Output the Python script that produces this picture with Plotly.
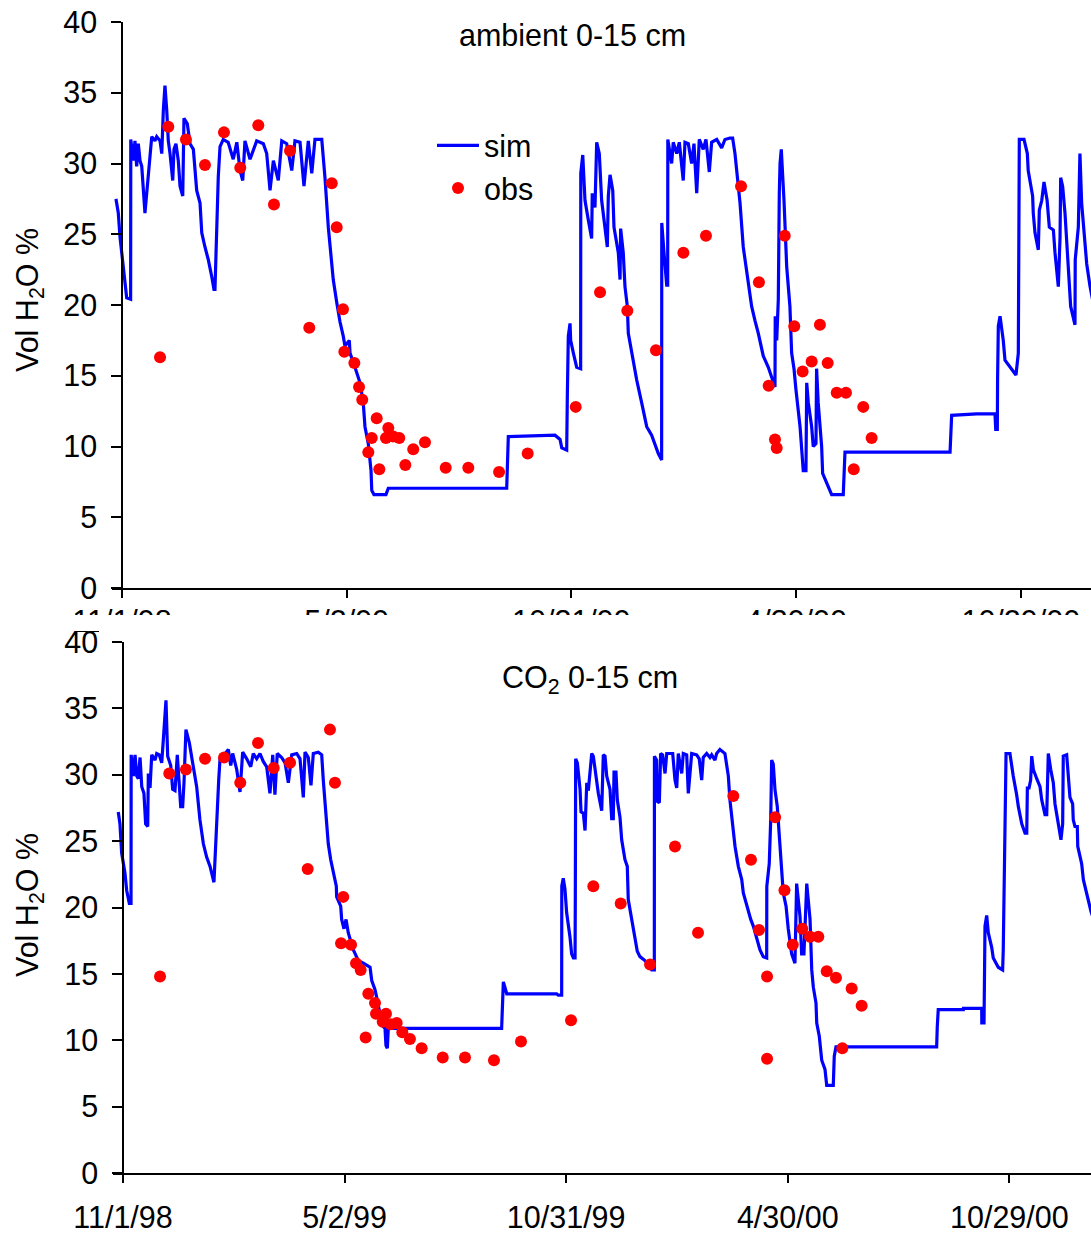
import pandas as pd
import plotly.graph_objects as go

ORIGIN = pd.Timestamp("1998-11-01")

# ---- ambient plot, 0-15 cm (days after 1 Nov 1998, vol. water %) ----
amb_sim_day = [-4.9, -3.0, -1.6, 0.6, 2.4, 3.8, 7.0, 7.1, 9.2, 10.5, 11.9, 13.2, 14.6, 16.0, 18.6,
               22.7, 24.1, 26.7, 28.1, 30.8, 32.2, 33.5, 34.8, 36.2, 37.5, 38.9, 41.1, 42.1, 43.7,
               45.6, 47.0, 49.2, 50.2, 52.9, 55.1, 57.8, 60.5, 63.2, 64.6, 67.2, 69.9, 72.7, 74.5,
               75.3, 76.7, 78.0, 79.4, 82.0, 86.0, 90.1, 93.0, 95.6, 97.8, 99.6, 103.7, 109.1,
               114.5, 117.2, 119.9, 122.6, 126.6, 129.4, 133.4, 137.5, 140.1, 144.2, 147.4, 150.9,
               153.7, 156.3, 161.8, 164.4, 167.1, 171.1, 173.9, 176.6, 179.2, 180.6, 184.1, 184.7,
               188.7, 192.8, 195.4, 196.8, 199.5, 201.7, 202.3, 204.1, 213.8, 215.7, 311.6, 312.9,
               350.7, 354.8, 356.2, 360.2, 360.7, 361.5, 362.9, 363.4, 365.6, 368.3, 371.5, 371.6,
               373.2, 375.0, 377.7, 380.4, 380.9, 383.1, 384.5, 386.6, 388.5, 391.2, 393.1, 393.9,
               395.3, 397.5, 398.5, 402.0, 403.4, 403.9, 406.0, 407.4, 409.3, 410.1, 412.8, 416.9,
               420.9, 425.0, 429.0, 431.7, 434.4, 437.1, 437.2, 439.0, 441.2, 442.0, 442.1, 445.2,
               446.5, 449.3, 451.4, 454.6, 456.0, 458.7, 461.4, 463.3, 465.5, 467.6, 470.8, 473.0,
               475.7, 477.6, 481.7, 485.7, 488.4, 492.4, 494.6, 496.5, 499.2, 500.6, 503.2, 506.0,
               510.0, 512.7, 515.4, 519.4, 523.5, 528.9, 529.1, 530.3, 531.6, 532.4, 533.0, 534.0,
               536.2, 538.4, 541.0, 542.4, 544.3, 545.9, 549.2, 551.8, 554.0, 554.6, 555.9, 558.6,
               559.9, 562.1, 562.6, 563.9, 566.7, 567.5, 570.8, 574.8, 584.2, 585.6, 670.7, 672.0,
               692.3, 707.1, 707.7, 709.0, 709.2, 709.8, 711.2, 713.8, 715.2, 717.9, 724.1, 726.0,
               726.1, 726.8, 730.6, 733.3, 734.0, 737.6, 738.1, 739.5, 742.2, 743.0, 745.0, 746.8,
               749.3, 751.1, 754.4, 755.7, 758.4, 759.8, 760.3, 761.9, 763.8, 767.3, 768.4, 771.9,
               772.1, 774.6, 775.9, 777.3, 781.4, 784.1, 788.1]
amb_sim_val = [27.5, 26.5, 24.8, 23.0, 21.3, 20.5, 20.4, 31.7, 30.2, 31.6, 29.8, 31.4, 30.2, 29.8, 26.5,
               30.7, 31.9, 31.6, 31.9, 31.6, 30.7, 33.8, 35.5, 33.8, 31.6, 30.7, 28.8, 31.0, 31.4,
               30.2, 28.4, 27.7, 33.2, 32.8, 31.4, 31.0, 28.1, 27.2, 25.1, 24.1, 23.2, 22.0, 21.1,
               21.1, 26.0, 29.1, 31.2, 31.7, 31.5, 30.3, 31.5, 29.5, 28.8, 31.6, 30.3, 31.6,
               31.4, 30.7, 28.1, 30.2, 28.8, 31.6, 31.4, 29.5, 31.6, 31.5, 28.4, 31.6,
               29.3, 31.7, 31.7, 29.0, 25.5, 21.8, 20.2, 18.8, 17.8, 17.1, 17.5, 16.6,
               15.6, 14.5, 13.1, 11.4, 10.2, 8.3, 6.9, 6.6, 6.6, 7.05, 7.05, 10.7,
               10.8, 10.5, 9.9, 9.75, 13.5, 17.8, 18.7, 17.5, 16.6, 15.6, 15.5, 29.3,
               30.6, 27.4, 26.0, 24.7, 27.9, 26.9, 31.5, 30.7, 27.4, 25.5, 24.1, 27.7,
               29.2, 28.1, 25.5, 23.7, 21.8, 25.4, 23.7, 21.3, 19.9, 18.0, 16.6, 14.7,
               13.1, 11.4, 10.8, 10.1, 9.5, 9.05, 25.8, 23.7, 21.4, 21.4, 31.7, 30.0,
               31.5, 30.7, 31.5, 28.8, 31.5, 31.4, 30.0, 31.4, 27.9, 31.7, 31.0, 31.7,
               29.4, 31.5, 31.7, 31.1, 31.7, 31.8, 31.8, 30.7, 28.4, 27.2, 24.1, 22.3,
               19.9, 18.9, 18.0, 16.4, 15.6, 14.2, 19.2, 17.5, 20.4, 27.9, 30.0, 31.0,
               27.4, 22.7, 19.9, 16.6, 15.5, 14.0, 11.4, 8.3, 8.3, 14.5, 13.1, 11.4,
               10.0, 10.2, 15.5, 13.1, 10.0, 8.1, 7.4, 6.6, 6.6, 9.6, 9.6, 12.2,
               12.3, 12.3, 11.2, 11.2, 14.7, 18.5, 19.2, 17.5, 16.1, 15.8, 15.05, 16.6,
               24.8, 31.7, 31.7, 30.7, 29.5, 27.7, 26.5, 25.1, 23.9, 26.7, 27.4, 28.7,
               27.4, 25.5, 25.3, 23.7, 21.3, 24.8, 29.0, 28.4, 26.5, 21.3, 19.9, 18.6,
               23.2, 25.5, 30.7, 27.2, 22.9, 21.3, 19.5]

amb_obs_day = [30.8, 37.5, 51.8, 67.2, 82.6, 95.8, 110.4, 123.1, 136.1, 151.7, 169.9, 173.9, 179.0,
               180.1, 188.2, 192.0, 194.6, 199.5, 202.3, 206.3, 208.4, 213.8, 215.7, 219.7, 224.6,
               229.5, 235.9, 245.4, 262.2, 280.5, 305.4, 328.6, 367.5, 387.2, 409.3, 432.5, 454.7,
               473.0, 501.4, 515.9, 523.8, 528.9, 530.3, 536.8, 544.5, 551.3, 558.6, 565.3, 571.6,
               578.9, 586.4, 592.7, 600.4, 607.2]
amb_obs_val = [16.3, 32.6, 31.7, 29.9, 32.2, 29.7, 32.7, 27.1, 30.9, 18.4, 28.6, 25.5, 19.7,
               16.7, 15.9, 14.2, 13.3, 9.6, 10.6, 12.0, 8.4, 10.6, 11.3, 10.7, 10.6,
               8.7, 9.8, 10.3, 8.5, 8.5, 8.2, 9.5, 12.8, 20.9, 19.6, 16.8, 23.7,
               24.9, 28.4, 21.6, 14.3, 10.5, 9.9, 24.9, 18.5, 15.3, 16.0, 18.6, 15.9,
               13.8, 13.8, 8.4, 12.8, 10.6]

# ---- elevated CO2 plot, 0-15 cm ----
co2_sim_day = [-3.9, -2.5, -1.1, 1.6, 3.0, 5.2, 6.6, 6.7, 8.5, 9.9, 11.3, 12.6, 14.0, 15.4, 17.2,
               18.6, 20.3, 20.8, 22.2, 23.6, 26.3, 27.7, 29.8, 31.8, 33.1, 35.3, 36.7, 39.2, 40.8,
               42.7, 44.6, 47.4, 49.0, 50.1, 51.7, 54.5, 57.2, 60.5, 63.2, 66.0, 68.7, 71.5, 74.7,
               76.1, 77.5, 78.6, 79.7, 82.4, 86.5, 88.5, 90.1, 93.4, 96.1, 98.3, 101.6, 104.9,
               107.0, 109.8, 112.5, 115.2, 118.0, 120.7, 123.0, 124.8, 126.7, 130.3, 133.1, 135.8,
               138.6, 142.7, 145.4, 148.1, 149.5, 152.2, 154.4, 156.3, 160.4, 163.2, 164.5, 167.3,
               168.6, 170.6, 172.7, 175.2, 175.5, 178.8, 179.6, 181.5, 183.2, 185.0, 189.2, 193.3,
               197.4, 202.9, 204.3, 207.0, 208.9, 211.1, 213.0, 215.2, 216.0, 217.1, 217.9, 311.0,
               311.5, 312.4, 315.2, 356.2, 357.5, 360.3, 360.4, 361.6, 363.0, 364.4, 367.1, 368.5,
               369.9, 371.3, 371.5, 371.8, 373.2, 375.4, 376.2, 378.1, 379.5, 380.9, 382.2, 383.6,
               385.0, 386.3, 388.5, 390.4, 393.2, 394.5, 395.9, 397.3, 400.0, 401.4, 402.7, 403.3,
               404.9, 406.0, 408.2, 409.6, 412.3, 414.2, 415.0, 417.8, 420.5, 422.4, 424.6, 428.7,
               432.8, 434.2, 436.4, 436.5, 438.3, 438.8, 440.5, 441.6, 443.2, 445.2, 446.6, 451.5,
               453.4, 454.8, 456.1, 458.9, 460.2, 463.0, 464.3, 467.1, 471.2, 473.3, 475.3, 476.6,
               479.4, 482.1, 483.5, 486.2, 487.6, 490.3, 494.4, 495.8, 497.2, 498.5, 499.9, 501.3,
               502.7, 505.4, 508.2, 509.5, 511.7, 513.6, 515.6, 517.7, 520.5, 523.2, 525.9, 528.7,
               528.8, 530.8, 532.0, 532.8, 534.1, 535.5, 537.4, 539.1, 541.0, 542.3, 544.6, 546.4,
               549.2, 551.9, 553.3, 554.7, 556.1, 557.4, 559.3, 561.6, 562.9, 564.3, 565.7, 567.0,
               569.2, 569.8, 571.9, 573.9, 576.6, 578.0, 583.4, 584.2, 585.6, 668.3, 668.8, 669.6,
               690.2, 690.3, 705.3, 705.4, 707.2, 707.4, 708.0, 709.4, 710.7, 713.5, 714.8, 718.9,
               722.5, 723.0, 724.4, 725.3, 728.5, 730.0, 731.2, 734.0, 735.4, 738.2, 740.9, 742.3,
               742.8, 744.2, 745.5, 746.4, 747.7, 750.5, 753.2, 754.6, 757.3, 758.7, 760.0, 762.0,
               764.1, 765.5, 767.4, 769.1, 770.4, 771.8, 772.3, 775.1, 776.4, 777.8, 780.0, 780.5,
               781.9, 783.8, 784.2, 787.4, 788.8, 791.6, 795.1, 798.4]
co2_sim_val = [27.2, 26.3, 24.1, 22.6, 21.3, 20.3, 20.3, 31.5, 29.9, 31.5, 29.9, 29.7, 31.3, 29.1, 28.6,
               26.3, 26.1, 30.1, 29.0, 31.5, 31.1, 31.6, 31.5, 30.9, 32.6, 35.6, 31.4, 30.7, 28.9,
               28.8, 31.5, 27.6, 27.6, 29.4, 33.4, 32.4, 30.9, 29.1, 26.6, 24.8, 23.8, 23.1, 21.9,
               25.1, 27.1, 29.6, 31.2, 31.4, 31.9, 30.7, 31.6, 30.4, 28.7, 31.7, 31.2, 30.6,
               31.6, 31.2, 31.6, 31.0, 30.6, 28.6, 31.5, 28.5, 31.6, 31.3, 30.9, 29.4,
               31.5, 31.6, 31.2, 28.3, 31.7, 31.3, 29.2, 31.6, 31.7, 31.5, 29.6, 26.3,
               24.8, 23.6, 22.6, 21.6, 20.8, 20.1, 19.1, 18.4, 19.1, 18.1, 16.8, 16.0,
               15.8, 15.5, 14.5, 13.8, 13.0, 12.0, 11.1, 10.9, 9.6, 9.4, 10.9, 10.9,
               13.0, 14.4, 13.5, 13.5, 13.4, 13.4, 21.6, 22.2, 21.4, 19.6, 17.8, 16.5,
               16.2, 16.2, 20.6, 31.2, 30.9, 28.9, 27.2, 27.1, 25.8, 29.4, 28.8, 30.6,
               31.6, 31.4, 29.9, 28.6, 27.3, 31.5, 31.4, 29.9, 28.9, 26.7, 26.7, 30.2,
               30.2, 28.1, 26.8, 25.1, 23.6, 23.1, 20.6, 19.1, 17.8, 16.7, 16.3, 16.0,
               15.5, 15.3, 15.3, 31.4, 31.1, 28.0, 27.9, 31.6, 31.5, 30.1, 31.6, 31.6,
               29.6, 29.0, 31.6, 30.1, 31.6, 31.5, 28.6, 31.6, 31.5, 31.2, 29.6, 31.3,
               31.6, 31.3, 31.5, 31.1, 31.6, 31.9, 31.6, 30.7, 29.9, 28.1, 26.8, 26.1,
               24.6, 23.1, 22.1, 21.1, 20.3, 19.8, 19.1, 18.6, 17.6, 16.8, 16.3, 16.2,
               21.6, 23.3, 26.6, 31.1, 30.8, 28.9, 27.6, 25.1, 23.1, 21.1, 20.1, 18.4,
               16.5, 15.8, 21.8, 20.3, 19.3, 16.5, 16.5, 21.8, 20.1, 19.1, 15.3, 14.0,
               12.8, 11.3, 10.3, 8.5, 7.8, 6.6, 6.6, 8.8, 9.5, 9.5, 11.0, 12.3,
               12.3, 12.4, 12.4, 11.3, 11.3, 15.3, 18.6, 19.4, 18.1, 17.0, 16.2, 15.5,
               15.3, 16.8, 25.3, 31.6, 31.6, 30.6, 29.9, 28.5, 27.6, 26.3, 25.6, 25.6,
               29.0, 29.0, 29.6, 31.4, 30.4, 29.7, 29.1, 28.1, 27.0, 27.0, 31.6, 30.4,
               29.4, 27.8, 26.6, 25.6, 25.1, 26.3, 31.4, 31.5, 29.6, 28.3, 27.8, 26.6,
               26.1, 26.1, 24.6, 23.3, 22.1, 21.1, 19.7, 18.8]

co2_obs_day = [30.4, 38.0, 51.7, 67.4, 83.0, 96.3, 110.9, 123.8, 137.2, 151.7, 170.0, 174.1, 179.1,
               180.9, 187.3, 191.4, 195.2, 199.3, 201.5, 207.0, 207.8, 213.3, 216.0, 219.9, 224.8,
               229.4, 235.7, 245.3, 262.6, 280.9, 304.7, 326.9, 368.0, 386.3, 408.8, 432.9, 453.4,
               472.3, 501.3, 515.8, 522.4, 529.0, 529.0, 535.6, 543.3, 550.1, 557.9, 564.3, 571.1,
               578.0, 585.6, 590.8, 598.5, 606.7]
co2_obs_val = [14.8, 30.1, 30.4, 31.2, 31.3, 29.4, 32.4, 30.5, 30.9, 22.9, 33.4, 29.4, 17.3,
               20.8, 17.2, 15.8, 15.3, 10.2, 13.5, 12.8, 12.0, 11.4, 12.0, 11.2, 11.3,
               10.6, 10.1, 9.4, 8.7, 8.7, 8.5, 9.9, 11.5, 21.6, 20.3, 15.7, 24.6,
               18.1, 28.4, 23.6, 18.3, 14.8, 8.6, 26.8, 21.3, 17.2, 18.4, 17.8, 17.8,
               15.2, 14.7, 9.4, 13.9, 12.6]

tick_dates = ["1998-11-01", "1999-05-02", "1999-10-31", "2000-04-30", "2000-10-29"]
tick_text = ["11/1/98", "5/2/99", "10/31/99", "4/30/00", "10/29/00"]


def to_dates(days):
    return ORIGIN + pd.to_timedelta(days, unit="D")


W, H = 1091, 1235
FONT = "Liberation Sans, Arial, sans-serif"
FS = 30.5
LINE_W = 3.2
DOT = 12


def px_x(p):
    return p / W


def px_y(p):
    return (H - p) / H


fig = go.Figure()

fig.add_trace(go.Scatter(x=to_dates(amb_sim_day), y=amb_sim_val, mode="lines", name="sim",
                         line=dict(color="#0000FF", width=LINE_W), xaxis="x", yaxis="y"))
fig.add_trace(go.Scatter(x=to_dates(amb_obs_day), y=amb_obs_val, mode="markers", name="obs",
                         marker=dict(color="#FF0000", size=DOT), xaxis="x", yaxis="y"))
fig.add_trace(go.Scatter(x=to_dates(co2_sim_day), y=co2_sim_val, mode="lines", name="sim",
                         line=dict(color="#0000FF", width=LINE_W), xaxis="x2", yaxis="y2",
                         showlegend=False))
fig.add_trace(go.Scatter(x=to_dates(co2_obs_day), y=co2_obs_val, mode="markers", name="obs",
                         marker=dict(color="#FF0000", size=DOT), xaxis="x2", yaxis="y2",
                         showlegend=False))

# axis geometry (pixels): y-axis line position, x-axis scale
TOP_AX, TOP_PPD = 122, 1.2346
BOT_AX, BOT_PPD = 123, 1.2175
PAD = 10

common_x = dict(showline=True, linecolor="black", linewidth=1.5, ticks="outside", ticklen=8,
                tickcolor="black", tickwidth=1.5, tickvals=tick_dates, ticktext=tick_text,
                tickfont=dict(size=FS, color="black", family=FONT), showgrid=False,
                zeroline=False, automargin=False)
common_y = dict(showline=True, linecolor="black", linewidth=1.5, ticks="outside", ticklen=10,
                tickcolor="black", tickwidth=1.5, range=[0, 40], dtick=5, tick0=0,
                tickfont=dict(size=FS, color="black", family=FONT), showgrid=False,
                zeroline=False, anchor="free", automargin=False, ticklabelstandoff=8)

fig.update_layout(
    template="none",
    width=W, height=H, autosize=False,
    margin=dict(l=0, r=0, t=0, b=0, pad=0),
    paper_bgcolor="white", plot_bgcolor="rgba(0,0,0,0)",
    font=dict(family=FONT, size=FS, color="black"),
    xaxis=dict(domain=[px_x(TOP_AX - PAD), 1], anchor="y", ticklabelstandoff=-2,
               range=[ORIGIN - pd.Timedelta(days=PAD / TOP_PPD),
                      ORIGIN + pd.Timedelta(days=(W - TOP_AX) / TOP_PPD)], **common_x),
    yaxis=dict(domain=[px_y(588), px_y(22)], position=px_x(TOP_AX), **common_y),
    xaxis2=dict(domain=[px_x(BOT_AX - PAD), 1], anchor="y2", ticklabelstandoff=9,
                range=[ORIGIN - pd.Timedelta(days=PAD / BOT_PPD),
                       ORIGIN + pd.Timedelta(days=(W - BOT_AX) / BOT_PPD)], **common_x),
    yaxis2=dict(domain=[px_y(1173), px_y(642)], position=px_x(BOT_AX), **common_y),
    showlegend=True,
    legend=dict(x=px_x(432), y=px_y(119), xanchor="left", yanchor="top",
                bgcolor="rgba(0,0,0,0)", font=dict(size=FS, color="black", family=FONT),
                itemwidth=42, tracegroupgap=0),
)

# the lower chart overlaps the date labels of the upper one
fig.add_shape(type="rect", xref="paper", yref="paper", x0=px_x(99), x1=1,
              y0=px_y(637), y1=px_y(615), fillcolor="white", line=dict(width=0),
              layer="above")
fig.add_shape(type="rect", xref="paper", yref="paper", x0=0, x1=px_x(99),
              y0=px_y(631), y1=px_y(615), fillcolor="white", line=dict(width=0),
              layer="above")

ann = dict(xref="paper", yref="paper", showarrow=False,
           font=dict(size=FS, color="black", family=FONT))
fig.add_annotation(text="ambient 0-15 cm", x=px_x(572), y=px_y(35), xanchor="center",
                   yanchor="middle", **ann)
fig.add_annotation(text="CO<sub>2</sub> 0-15 cm", x=px_x(590), y=px_y(679), xanchor="center",
                   yanchor="middle", **ann)
fig.add_annotation(text="Vol H<sub>2</sub>O %", x=px_x(30), y=px_y(300), xanchor="center",
                   yanchor="middle", textangle=-90, **ann)
fig.add_annotation(text="Vol H<sub>2</sub>O %", x=px_x(30), y=px_y(905), xanchor="center",
                   yanchor="middle", textangle=-90, **ann)

fig.write_html("out.html")
